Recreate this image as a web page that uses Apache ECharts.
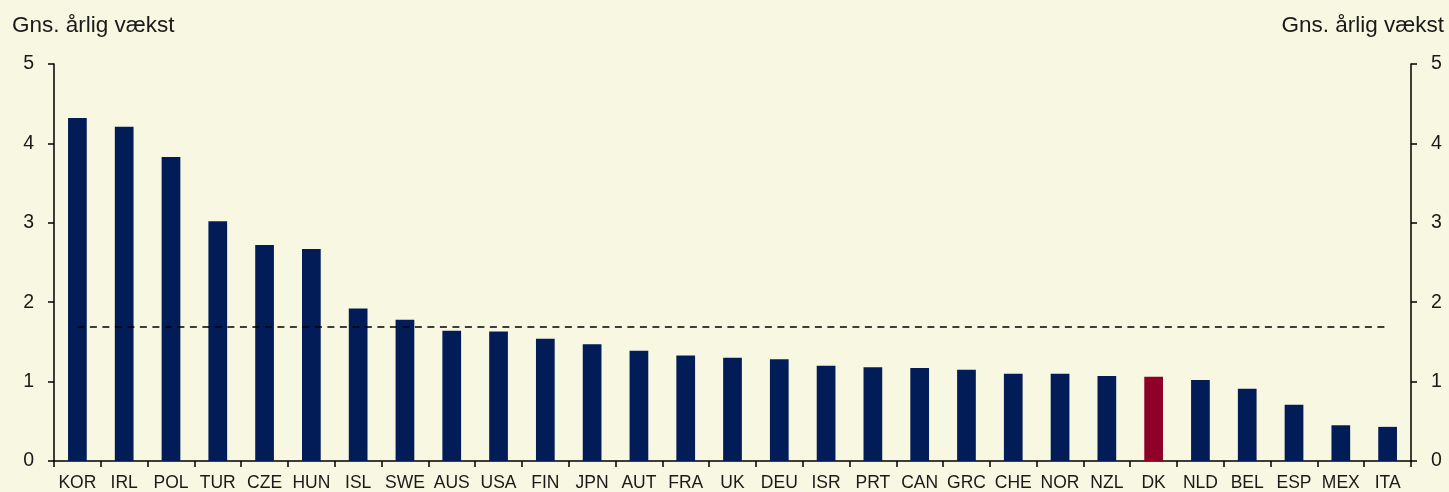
<!DOCTYPE html>
<html>
<head>
<meta charset="utf-8">
<script src="https://cdn.jsdelivr.net/npm/echarts@6/dist/echarts.min.js"></script>
<style>
html,body{margin:0;padding:0;background:#F8F7E1;}
#chart{width:1449px;height:492px;}
</style>
</head>
<body>
<div id="chart"></div>
<script>
const categories = ['KOR','IRL','POL','TUR','CZE','HUN','ISL','SWE','AUS','USA','FIN','JPN','AUT','FRA','UK','DEU','ISR','PRT','CAN','GRC','CHE','NOR','NZL','DK','NLD','BEL','ESP','MEX','ITA'];
const values = [4.32,4.21,3.83,3.02,2.72,2.67,1.92,1.78,1.64,1.63,1.54,1.47,1.39,1.33,1.30,1.28,1.20,1.18,1.17,1.15,1.10,1.10,1.07,1.06,1.02,0.91,0.71,0.45,0.43];
const average = 1.69;
const highlight = 'DK';
const yTicks = [0,1,2,3,4,5];
const axisTitle = 'Gns. årlig vækst';

const navy = '#021C58';
const red = '#8E0028';
const font = 'Liberation Sans, Arial, sans-serif';

const chart = echarts.init(document.getElementById('chart'));
const axisY = (pos) => ({
  type: 'value', position: pos, min: yTicks[0], max: yTicks[yTicks.length-1], interval: 1,
  splitLine: {show: false},
  axisLine: {show: true, lineStyle: {color: '#000', width: 1.5}},
  axisTick: {show: true, inside: false, length: 6, lineStyle: {color: '#000', width: 1.5}},
  axisLabel: {color: '#1a1a1a', fontSize: 19.5, fontFamily: font, margin: 20}
});
chart.setOption({
  backgroundColor: '#F8F7E1',
  animation: false,
  grid: {left: 54, right: 38, top: 64, bottom: 29, containLabel: false},
  graphic: [
    {type: 'text', left: 12, top: 14, style: {text: axisTitle, fontSize: 22.5, fontFamily: font, fill: '#1a1a1a'}},
    {type: 'text', right: 5, top: 14, style: {text: axisTitle, fontSize: 22.5, fontFamily: font, fill: '#1a1a1a'}}
  ],
  xAxis: {
    type: 'category', data: categories, boundaryGap: true,
    axisLine: {lineStyle: {color: '#000', width: 1.5}},
    axisTick: {show: true, length: 6, alignWithLabel: false, lineStyle: {color: '#000', width: 1.5}},
    axisLabel: {color: '#1a1a1a', fontSize: 17.5, fontFamily: font, margin: 13, interval: 0}
  },
  yAxis: [axisY('left'), axisY('right')],
  series: [{
    type: 'bar',
    yAxisIndex: 0,
    barWidth: '40%',
    data: values.map((v, i) => ({value: v, itemStyle: {color: categories[i] === highlight ? red : navy}})),
    markLine: {
      silent: true, symbol: 'none',
      label: {show: false},
      lineStyle: {type: [7, 5.5], color: '#000', width: 1.5},
      data: [[{coord: [categories[0], average]}, {coord: [categories[categories.length-1], average]}]]
    }
  }]
});
</script>
</body>
</html>
